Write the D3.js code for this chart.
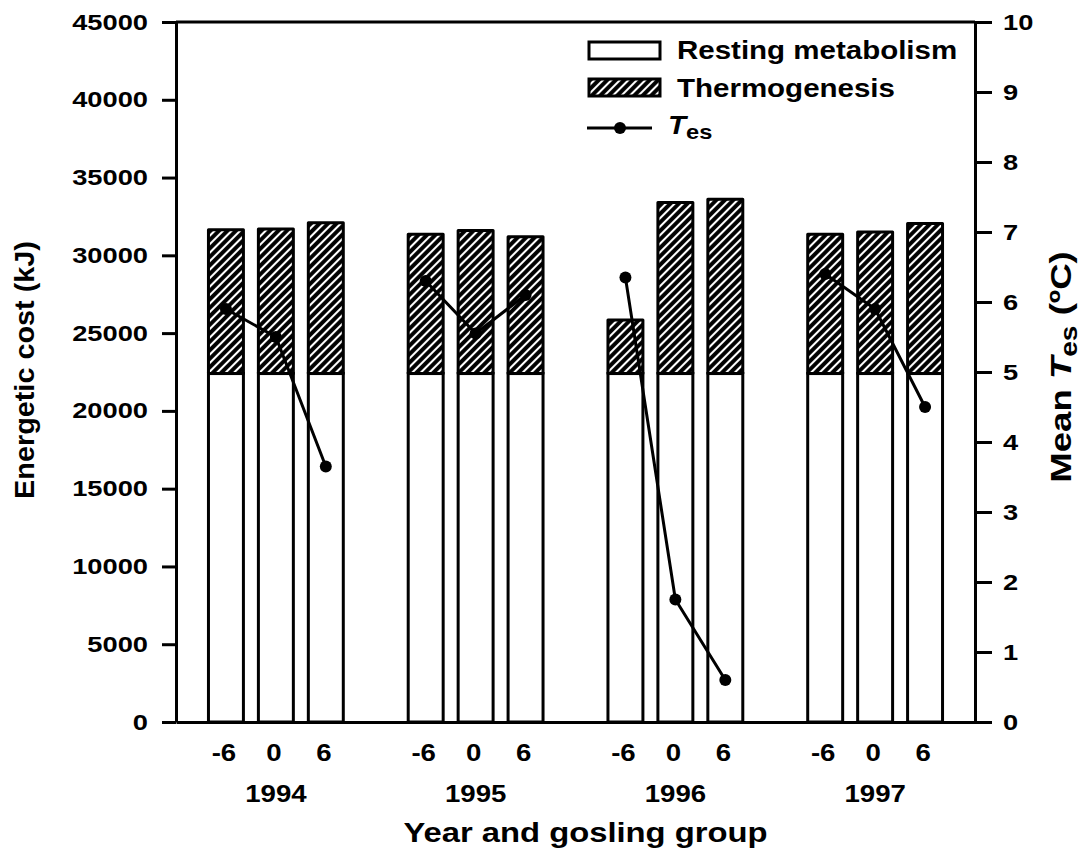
<!DOCTYPE html>
<html>
<head>
<meta charset="utf-8">
<script src="https://cdn.jsdelivr.net/npm/d3@7"></script>
<style>
  body { margin: 0; background: #fff; }
  text { font-family: "Liberation Sans", Arial, sans-serif; font-weight: bold; fill: #000; }
</style>
</head>
<body>
<svg id="chart" width="1084" height="856"></svg>
<script>
// ---- data ----
const years = ["1994", "1995", "1996", "1997"];
const groups = ["-6", "0", "6"];
// energetic cost (kJ) per year × gosling group, in year order then group order
const resting = [22400, 22400, 22400, 22400, 22400, 22400, 22400, 22400, 22400, 22400, 22400, 22400];
const thermogenesis = [9250, 9300, 9700, 8950, 9200, 8800, 3450, 11000, 11200, 8950, 9100, 9650];
// mean operative temperature (°C)
const tes = [5.9, 5.5, 3.65, 6.3, 5.55, 6.1, 6.35, 1.75, 0.6, 6.4, 5.9, 4.5];
const leftTicks = [0, 5000, 10000, 15000, 20000, 25000, 30000, 35000, 40000, 45000];
const rightTicks = [0, 1, 2, 3, 4, 5, 6, 7, 8, 9, 10];
const legendLabels = ["Resting metabolism", "Thermogenesis"];

// ---- layout ----
const plot = { left: 176, right: 975, top: 22, bottom: 722 };
const STROKE = 3;

const svg = d3.select("#chart");

const y = d3.scaleLinear().domain([0, 45000]).range([plot.bottom, plot.top]);
const yT = d3.scaleLinear().domain([0, 10]).range([plot.bottom, plot.top]);
const x0 = d3.scaleBand().domain(years).range([plot.left, plot.right]);
const x1 = d3.scaleBand().domain(groups).range([0, x0.bandwidth()])
  .paddingInner(0.3).paddingOuter(0.65);

const rows = years.flatMap((yr, i) => groups.map((g, j) => ({
  year: yr, group: g,
  rest: resting[i * 3 + j],
  thermo: thermogenesis[i * 3 + j],
  tes: tes[i * 3 + j]
})));
const barX = d => x0(d.year) + x1(d.group);
const barC = d => barX(d) + x1.bandwidth() / 2;

// hatch fill: black ground with thin white "/" stripes
const defs = svg.append("defs");
const pat = defs.append("pattern")
  .attr("id", "hatch")
  .attr("patternUnits", "userSpaceOnUse")
  .attr("width", 6).attr("height", 6)
  .attr("patternTransform", "rotate(45)");
pat.append("rect").attr("width", 6).attr("height", 6).attr("fill", "#000");
pat.append("line").attr("x1", 3).attr("y1", 0).attr("x2", 3).attr("y2", 6)
  .attr("stroke", "#fff").attr("stroke-width", 2.1);

// text helper: horizontally widened bold lettering
function label(parent, txt, x, yy, opts = {}) {
  const size = opts.size || 21, sx = opts.sx || 1.3, rot = opts.rotate || 0;
  return parent.append("text")
    .attr("transform", `translate(${x},${yy}) rotate(${rot}) scale(${sx},1)`)
    .attr("text-anchor", opts.anchor || "middle")
    .style("font-size", size + "px")
    .text(txt);
}

// ---- bars ----
const bars = svg.append("g");
bars.selectAll("rect.rest").data(rows).join("rect")
  .attr("class", "rest")
  .attr("x", barX).attr("width", x1.bandwidth())
  .attr("y", d => y(d.rest)).attr("height", d => y(0) - y(d.rest))
  .attr("fill", "#fff").attr("stroke", "#000").attr("stroke-width", STROKE);
bars.selectAll("rect.thermo").data(rows).join("rect")
  .attr("class", "thermo")
  .attr("x", barX).attr("width", x1.bandwidth())
  .attr("y", d => y(d.rest + d.thermo)).attr("height", d => y(d.rest) - y(d.rest + d.thermo))
  .attr("fill", "url(#hatch)").attr("stroke", "#000").attr("stroke-width", STROKE)
  .attr("stroke-linejoin", "round");

// ---- T_es line per year ----
const line = d3.line().x(barC).y(d => yT(d.tes));
const tesG = svg.append("g");
years.forEach(yr => {
  const pts = rows.filter(r => r.year === yr);
  tesG.append("path").datum(pts).attr("d", line)
    .attr("fill", "none").attr("stroke", "#000").attr("stroke-width", STROKE);
});
tesG.selectAll("circle").data(rows).join("circle")
  .attr("cx", barC).attr("cy", d => yT(d.tes)).attr("r", 6).attr("fill", "#000");

// ---- axes ----
function styleAxis(g, sx, size) {
  g.select(".domain").attr("stroke-width", STROKE);
  g.selectAll(".tick line").attr("stroke-width", STROKE);
  g.selectAll(".tick text").each(function () {
    const t = d3.select(this);
    const x = +t.attr("x");
    t.attr("x", x / sx).attr("transform", `scale(${sx},1)`)
      .style("font-size", size + "px");
  });
  g.attr("font-family", null).attr("font-size", null);
}

const leftAxis = svg.append("g").attr("transform", `translate(${plot.left},0)`)
  .call(d3.axisLeft(y).tickValues(leftTicks).tickFormat(d3.format("d"))
    .tickSize(14).tickSizeOuter(0).tickPadding(14));
styleAxis(leftAxis, 1.24, 22);

const rightAxis = svg.append("g").attr("transform", `translate(${plot.right},0)`)
  .call(d3.axisRight(yT).tickValues(rightTicks).tickFormat(d3.format("d"))
    .tickSize(17).tickSizeOuter(0).tickPadding(11));
styleAxis(rightAxis, 1.24, 22);

const bottomAxis = svg.append("g").attr("transform", `translate(0,${plot.bottom})`)
  .call(d3.axisBottom(x0).tickSize(0).tickSizeOuter(0).tickFormat(""));
bottomAxis.select(".domain").attr("stroke-width", STROKE);

// top frame
svg.append("line")
  .attr("x1", plot.left).attr("x2", plot.right)
  .attr("y1", plot.top).attr("y2", plot.top)
  .attr("stroke", "#000").attr("stroke-width", STROKE);

// ---- x labels ----
const xl = svg.append("g");
rows.forEach(d => label(xl, d.group, barC(d) - 2, 761, { size: 23, sx: 1.2 }));
years.forEach(yr => label(xl, yr, x0(yr) + x0.bandwidth() / 2, 802, { size: 23, sx: 1.2 }));
label(xl, "Year and gosling group", (plot.left + plot.right) / 2 + 10, 842, { size: 28, sx: 1.17 });

// ---- y titles ----
label(svg, "Energetic cost (kJ)", 34, 370, { size: 28, sx: 1.03, rotate: -90 });

const rt = svg.append("text")
  .attr("transform", `translate(1071,367) rotate(-90) scale(1.22,1)`)
  .attr("text-anchor", "middle")
  .style("font-size", "30px");
rt.append("tspan").text("Mean ");
rt.append("tspan").style("font-style", "italic").text("T");
rt.append("tspan").attr("dy", 6).style("font-size", "23px").text("es");
rt.append("tspan").attr("dy", -6).text(" (ºC)");

// ---- legend ----
const lg = svg.append("g");
lg.append("rect").attr("x", 589).attr("y", 42).attr("width", 71).attr("height", 17)
  .attr("fill", "#fff").attr("stroke", "#000").attr("stroke-width", STROKE);
lg.append("rect").attr("x", 589).attr("y", 79).attr("width", 71).attr("height", 17)
  .attr("fill", "url(#hatch)").attr("stroke", "#000").attr("stroke-width", STROKE);
lg.append("line").attr("x1", 587).attr("x2", 652).attr("y1", 128).attr("y2", 128)
  .attr("stroke", "#000").attr("stroke-width", STROKE);
lg.append("circle").attr("cx", 620).attr("cy", 128).attr("r", 6).attr("fill", "#000");
legendLabels.forEach((t, i) => label(lg, t, 677, 59 + i * 38, { size: 25, sx: 1.18, anchor: "start" }));
const lt = lg.append("text")
  .attr("transform", `translate(668,134) scale(1.18,1)`)
  .style("font-size", "25px");
lt.append("tspan").style("font-style", "italic").text("T");
lt.append("tspan").attr("dy", 5).style("font-size", "20px").text("es");
</script>
</body>
</html>
